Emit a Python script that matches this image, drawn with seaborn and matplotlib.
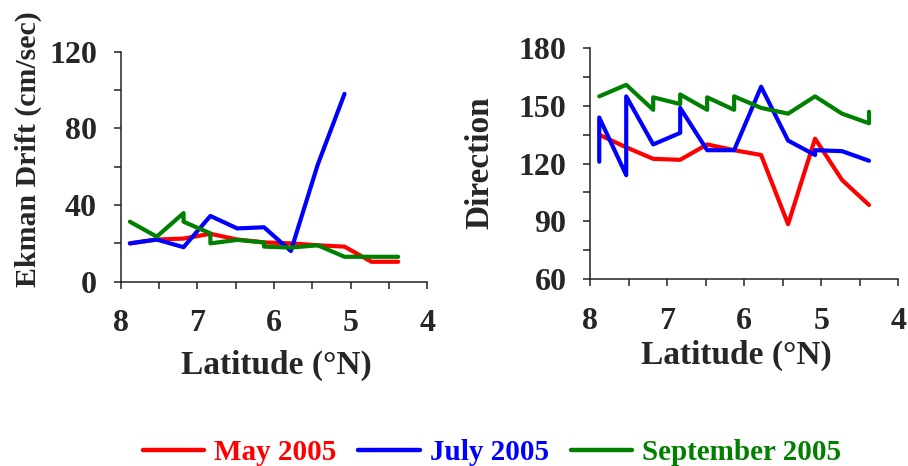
import matplotlib
matplotlib.use("Agg")
import matplotlib.pyplot as plt
from matplotlib.ticker import MultipleLocator
from matplotlib.lines import Line2D
import pandas as pd
import seaborn as sns

# ---- data -------------------------------------------------------------
months = ["May 2005", "July 2005", "September 2005"]
colors = ["#ff0000", "#0000ff", "#008000"]

# Ekman drift (cm/sec) against latitude (deg N)
may_drift_lat = [7.88, 7.53, 7.18, 6.83, 6.48, 6.13, 5.78, 5.43, 5.08, 4.73, 4.38]
may_drift = [20, 22, 22.5, 25, 22, 20.5, 20, 19, 18.3, 10.4, 10.4]

jul_drift_lat = [7.88, 7.53, 7.18, 6.83, 6.48, 6.13, 5.78, 5.43, 5.08]
jul_drift = [20, 22, 18, 34.3, 27.8, 28.4, 16, 61, 98]

sep_drift_lat = [7.88, 7.53, 7.18, 7.18, 6.83, 6.83, 6.48, 6.13, 6.13,
                 5.78, 5.43, 5.08, 4.73, 4.38]
sep_drift = [31.3, 23.5, 35.8, 31.3, 25.2, 20, 21.8, 20.5, 18.3,
             17.8, 19, 13, 13, 13]

# Direction (degrees) against latitude (deg N)
may_dir_lat = [7.88, 7.53, 7.18, 6.83, 6.48, 6.13, 5.78, 5.43, 5.08, 4.73, 4.38]
may_dir = [135, 128.5, 122.5, 122, 130, 127, 124.5, 88.5, 133, 111.5, 98.5]

jul_dir_lat = [7.88, 7.88, 7.53, 7.53, 7.18, 6.83, 6.83, 6.48, 6.13,
               5.78, 5.43, 5.08, 5.08, 4.73, 4.38]
jul_dir = [121, 144, 114, 155, 130, 136, 149, 127, 127,
           160, 132, 124.5, 127, 126.5, 121.5]

sep_dir_lat = [7.88, 7.53, 7.18, 7.18, 6.83, 6.83, 6.48, 6.48, 6.13, 6.13,
               5.78, 5.43, 5.08, 4.73, 4.38, 4.38]
sep_dir = [155, 161, 148, 154.5, 151, 156, 148, 154.5, 148, 155,
           149, 146, 155, 146, 141, 147]

lat_ticks = [8, 7, 6, 5, 4]


def long_form(series):
    frames = []
    for name, lat, val in series:
        frames.append(pd.DataFrame({"lat": lat, "value": val, "month": name}))
    return pd.concat(frames, ignore_index=True)


drift_df = long_form([
    (months[0], may_drift_lat, may_drift),
    (months[1], jul_drift_lat, jul_drift),
    (months[2], sep_drift_lat, sep_drift),
])
dir_df = long_form([
    (months[0], may_dir_lat, may_dir),
    (months[1], jul_dir_lat, jul_dir),
    (months[2], sep_dir_lat, sep_dir),
])

# ---- style ------------------------------------------------------------
sns.set_style("ticks")
plt.rcParams["font.family"] = ["Liberation Serif", "DejaVu Serif"]
plt.rcParams["font.weight"] = "bold"
plt.rcParams["axes.labelweight"] = "bold"

W, H = 908, 466
fig = plt.figure(figsize=(W / 100, H / 100), dpi=100)
ax1 = fig.add_axes([120.7 / W, 1 - 281.7 / H, (427.3 - 120.7) / W, (281.7 - 51.7) / H])
ax2 = fig.add_axes([590 / W, 1 - 279 / H, (898.3 - 590) / W, (279 - 48.3) / H])

palette = dict(zip(months, colors))
for ax, df in ((ax1, drift_df), (ax2, dir_df)):
    sns.lineplot(data=df, x="lat", y="value", hue="month", palette=palette,
                 sort=False, estimator=None, linewidth=3.0, legend=False,
                 ax=ax, clip_on=False)


def style_axis(ax, ylim, ymajor, yminor):
    ax.set_xlim(8, 4)
    ax.set_ylim(*ylim)
    ax.set_xticks(lat_ticks)
    ax.xaxis.set_minor_locator(MultipleLocator(0.5))
    ax.yaxis.set_major_locator(MultipleLocator(ymajor))
    ax.yaxis.set_minor_locator(MultipleLocator(yminor))
    for side in ("top", "right"):
        ax.spines[side].set_visible(False)
    for side in ("left", "bottom"):
        ax.spines[side].set_linewidth(1.1)
        ax.spines[side].set_color("#222222")
    ax.tick_params(axis="both", which="both", direction="out", length=5,
                   width=1.1, color="#222222")
    ax.tick_params(axis="x", which="major", pad=15, labelsize=23)
    ax.tick_params(axis="y", which="major", pad=12, labelsize=23)
    for lab in ax.get_xticklabels() + ax.get_yticklabels():
        lab.set_fontweight("bold")


style_axis(ax1, (0, 120), 40, 20)
style_axis(ax2, (60, 180), 30, 15)

ax1.set_xlabel("Latitude (°N)", fontsize=24, fontweight="bold")
ax1.set_ylabel("Ekman Drift (cm/sec)", fontsize=21.5, fontweight="bold")
ax2.set_xlabel("Latitude (°N)", fontsize=24, fontweight="bold")
ax2.set_ylabel("Direction", fontsize=24, fontweight="bold")

ax1.xaxis.set_label_coords(0.507, -0.297)
ax1.yaxis.set_label_coords(-0.257, 0.575)
ax2.xaxis.set_label_coords(0.474, -0.264)
ax2.yaxis.set_label_coords(-0.308, 0.503)

handles = [Line2D([0], [0], color=c, lw=3.2) for c in colors]
fig.legend(handles, months, loc="center", bbox_to_anchor=(0.542, 1 - 453 / H),
           ncol=3, frameon=False, labelcolor="linecolor",
           prop={"family": "Liberation Serif", "weight": "bold", "size": 21},
           handlelength=2.1, handletextpad=0.35, columnspacing=0.75)

fig.savefig("out.png", dpi=100)
